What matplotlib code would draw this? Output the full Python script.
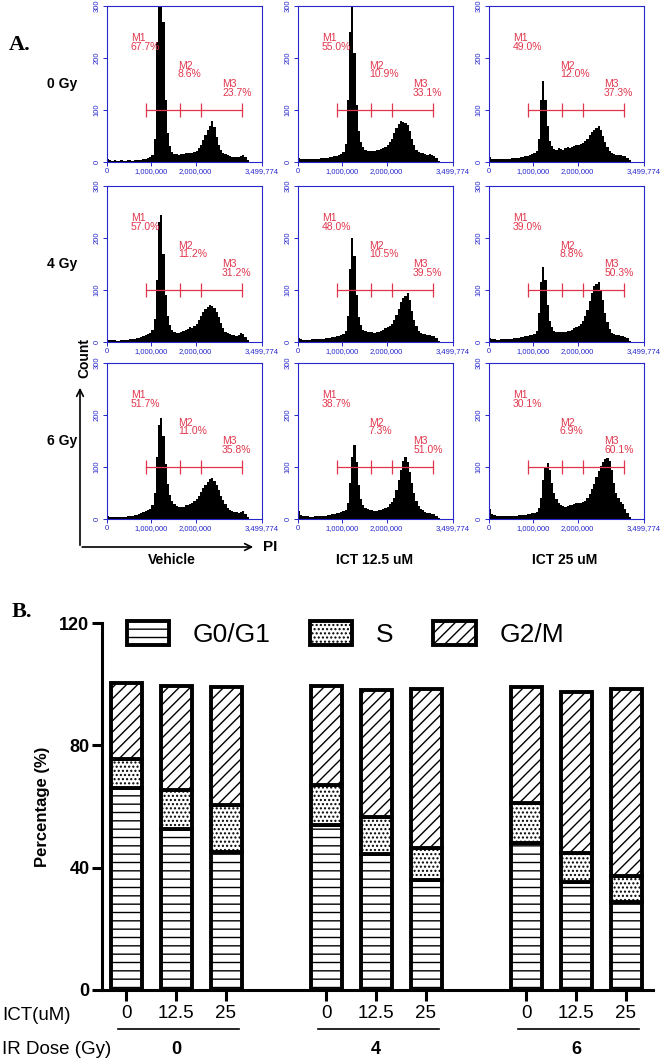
import matplotlib.pyplot as plt
import numpy as np
from matplotlib.patches import Patch, FancyArrowPatch

plt.rcParams['font.family'] = ['Liberation Sans', 'DejaVu Sans']
plt.rcParams['hatch.linewidth'] = 1.0

W, H = 667, 1063


def fx(x):
    return x / W


def fy(y):
    return 1 - y / H


# ---- Panel A: PI histograms (counts per 50,000-wide channel bin, 0 - 3,200,000)
bin_edges = np.arange(0, 3_200_001, 50_000)

h_0gy_vehicle = [5, 3, 2, 3, 2, 2, 3, 2,
                 2, 3, 3, 2, 3, 3, 4, 4,
                 5, 6, 8, 10, 14, 45, 230, 390,
                 380, 270, 120, 55, 30, 20, 16, 15,
                 14, 15, 16, 17, 18, 17, 18, 19,
                 22, 26, 32, 42, 52, 62, 70, 78,
                 68, 48, 32, 24, 18, 15, 13, 12,
                 10, 9, 9, 10, 12, 14, 10, 4]
h_0gy_ict12 = [8, 6, 5, 5, 6, 5, 5, 6,
               6, 6, 7, 7, 7, 8, 9, 10,
               11, 12, 14, 16, 20, 35, 120, 250,
               320, 210, 110, 60, 38, 28, 24, 22,
               22, 21, 22, 24, 23, 25, 26, 28,
               32, 38, 45, 55, 65, 74, 78, 77,
               75, 72, 60, 45, 32, 24, 20, 18,
               17, 15, 14, 16, 14, 12, 8, 2]
h_0gy_ict25 = [10, 6, 5, 5, 5, 5, 5, 6,
               6, 6, 7, 7, 8, 8, 9, 10,
               11, 12, 14, 15, 17, 22, 45, 120,
               155, 120, 70, 40, 30, 25, 24, 26,
               25, 24, 26, 28, 27, 28, 30, 32,
               33, 35, 36, 40, 45, 52, 58, 62,
               66, 70, 62, 50, 38, 28, 22, 18,
               16, 14, 13, 14, 12, 11, 8, 3]
h_4gy_vehicle = [4, 3, 3, 3, 2, 2, 3, 3,
                 3, 4, 5, 5, 6, 7, 8, 10,
                 12, 14, 16, 18, 24, 45, 120, 230,
                 245, 170, 90, 50, 32, 24, 20, 18,
                 18, 20, 22, 24, 25, 28, 26, 30,
                 34, 42, 50, 58, 64, 68, 72, 70,
                 66, 58, 48, 36, 26, 20, 17, 15,
                 14, 13, 12, 14, 18, 16, 10, 3]
h_4gy_ict12 = [8, 5, 4, 4, 4, 4, 5, 5,
               5, 5, 6, 6, 7, 7, 8, 9,
               10, 11, 12, 14, 16, 22, 50, 140,
               200, 165, 90, 48, 32, 24, 22, 20,
               19, 20, 18, 19, 20, 22, 24, 26,
               28, 30, 35, 42, 52, 64, 76, 84,
               88, 95, 80, 60, 42, 30, 22, 18,
               16, 15, 14, 13, 12, 11, 7, 2]
h_4gy_ict25 = [8, 5, 5, 4, 4, 5, 5, 5,
               5, 6, 6, 7, 7, 8, 9, 10,
               11, 12, 13, 14, 16, 22, 55, 115,
               145, 120, 72, 40, 28, 22, 20, 20,
               20, 19, 20, 21, 22, 24, 26, 28,
               30, 34, 40, 50, 62, 78, 95, 108,
               112, 115, 100, 80, 55, 38, 25, 18,
               16, 14, 13, 12, 11, 10, 7, 2]
h_6gy_vehicle = [6, 4, 3, 3, 3, 3, 4, 4,
                 4, 5, 5, 6, 7, 8, 10, 12,
                 14, 16, 18, 20, 26, 50, 120, 180,
                 195, 160, 105, 68, 46, 34, 28, 25,
                 24, 23, 24, 26, 27, 28, 30, 34,
                 38, 45, 52, 60, 66, 72, 76, 78,
                 74, 65, 55, 45, 36, 28, 22, 18,
                 16, 14, 14, 12, 14, 15, 10, 3]
h_6gy_ict12 = [15, 8, 6, 5, 5, 4, 4, 5,
               5, 5, 6, 6, 6, 7, 8, 9,
               10, 11, 12, 13, 15, 18, 30, 70,
               120, 142, 110, 65, 38, 26, 22, 20,
               18, 17, 16, 16, 17, 18, 20, 22,
               24, 28, 32, 40, 55, 75, 95, 112,
               120, 110, 90, 70, 50, 35, 25, 20,
               17, 14, 12, 11, 10, 9, 6, 2]
h_6gy_ict25 = [20, 10, 7, 6, 6, 5, 5, 5,
               5, 5, 6, 6, 6, 7, 7, 8,
               8, 9, 10, 11, 12, 14, 22, 40,
               75, 100, 108, 95, 70, 50, 38, 30,
               26, 25, 24, 25, 26, 27, 28, 30,
               30, 30, 32, 35, 40, 48, 58, 68,
               80, 92, 102, 110, 115, 118, 112, 95,
               70, 50, 40, 32, 28, 20, 12, 4]

hists = [[h_0gy_vehicle, h_0gy_ict12, h_0gy_ict25],
         [h_4gy_vehicle, h_4gy_ict12, h_4gy_ict25],
         [h_6gy_vehicle, h_6gy_ict12, h_6gy_ict25]]

gate_edges = [880_000, 1_640_000, 2_130_000, 3_040_000]
pct_m1 = [[67.7, 55.0, 49.0], [57.0, 48.0, 39.0], [51.7, 38.7, 30.1]]
pct_m2 = [[8.6, 10.9, 12.0], [11.2, 10.5, 8.8], [11.0, 7.3, 6.9]]
pct_m3 = [[23.7, 33.1, 37.3], [31.2, 39.5, 50.3], [35.8, 51.0, 60.1]]

row_names = ['0 Gy', '4 Gy', '6 Gy']
col_names = ['Vehicle', 'ICT 12.5 uM', 'ICT 25 uM']
x_ticks = [0, 1_000_000, 2_000_000, 3_499_774]
x_ticklabels = ['0', '1,000,000', '2,000,000', '3,499,774']

# ---- Panel B: stacked percentages
ict_labels = ['0', '12.5', '25']
ir_doses = ['0', '4', '6']
g0g1 = [66.0, 52.5, 45.0, 54.0, 44.5, 36.0, 48.0, 35.3, 28.8]
s_phase = [9.5, 13.0, 15.5, 13.0, 12.0, 10.5, 13.0, 9.5, 8.5]
g2m = [25.0, 34.0, 38.5, 32.5, 41.5, 52.0, 38.0, 52.6, 61.0]

blue = '#2626cc'
red = '#e0364c'

fig = plt.figure(figsize=(W / 100, H / 100), dpi=100)

col_left = [107, 298, 489]
row_top = [6, 186, 363]
pw, ph = 155, 156

for r in range(3):
    for c in range(3):
        ax = fig.add_axes([fx(col_left[c]), fy(row_top[r] + ph), pw / W, ph / H])
        ax.stairs(hists[r][c], bin_edges, fill=True, color='black', lw=0)
        ax.set_xlim(0, 3_499_774)
        ax.set_ylim(0, 300)
        for s in ax.spines.values():
            s.set_color(blue)
            s.set_linewidth(0.8)
        ax.set_xticks(x_ticks, x_ticklabels)
        ax.set_yticks([0, 100, 200, 300])
        ax.tick_params(colors=blue, labelsize=5.5, length=3, width=0.7, pad=1.5)
        ax.tick_params(axis='y', labelrotation=90)
        for lab in ax.get_yticklabels():
            lab.set_va('center')

        # gate markers
        ax.plot([gate_edges[0], gate_edges[-1]], [100, 100], color=red, lw=0.9)
        ax.vlines(gate_edges, 86, 114, color=red, lw=0.9)
        ax.text(540_000, 248, f"M1\n{pct_m1[r][c]:.1f}%", color=red, fontsize=7.5,
                va='top', ha='left', linespacing=0.85)
        ax.text(1_600_000, 195, f"M2\n{pct_m2[r][c]:.1f}%", color=red, fontsize=7.5,
                va='top', ha='left', linespacing=0.85)
        ax.text(2_600_000, 160, f"M3\n{pct_m3[r][c]:.1f}%", color=red, fontsize=7.5,
                va='top', ha='left', linespacing=0.85)

for r, name in enumerate(row_names):
    fig.text(fx(62), fy(row_top[r] + 78), name, ha='center', va='center',
             fontsize=10, fontweight='bold')

col_cx = [172, 375, 565]
for c, name in enumerate(col_names):
    fig.text(fx(col_cx[c]), fy(560), name, ha='center', va='center',
             fontsize=10, fontweight='bold')

# Count / PI arrows
fig.add_artist(FancyArrowPatch((fx(80), fy(548)), (fx(80), fy(385)),
                               transform=fig.transFigure, arrowstyle='->',
                               mutation_scale=12, lw=1.2, color='black'))
fig.add_artist(FancyArrowPatch((fx(79.4), fy(547)), (fx(256), fy(547)),
                               transform=fig.transFigure, arrowstyle='->',
                               mutation_scale=12, lw=1.2, color='black'))
fig.text(fx(84), fy(358), 'Count', rotation=90, ha='center', va='center',
         fontsize=10, fontweight='bold')
fig.text(fx(270), fy(547), 'PI', ha='center', va='center',
         fontsize=11, fontweight='bold')

fig.text(fx(20), fy(45), 'A.', ha='center', va='center', fontsize=16,
         fontweight='bold', family=['Liberation Serif', 'DejaVu Serif'])
fig.text(fx(22), fy(612), 'B.', ha='center', va='center', fontsize=16,
         fontweight='bold', family=['Liberation Serif', 'DejaVu Serif'])

# ---- Panel B
axb = fig.add_axes([fx(102), fy(990), (653 - 102) / W, (990 - 623) / H])
pos = np.array([g * 4 + i for g in range(3) for i in range(3)], dtype=float)
bottom = np.zeros(len(pos))
handles = []
for vals, hatch, lab in [(g0g1, '--', 'G0/G1'), (s_phase, '....', 'S'), (g2m, '///', 'G2/M')]:
    axb.bar(pos, vals, width=0.62, bottom=bottom, color='white', edgecolor='black',
            linewidth=2.8, hatch=hatch)
    bottom += np.array(vals)
    handles.append(Patch(facecolor='white', edgecolor='black', linewidth=2.8,
                         hatch=hatch, label=lab))

axb.set_xlim(-0.48, 10.54)
axb.set_ylim(0, 120)
axb.spines['top'].set_visible(False)
axb.spines['right'].set_visible(False)
axb.spines['left'].set_linewidth(2.2)
axb.spines['bottom'].set_linewidth(2.2)
axb.set_yticks([0, 40, 80, 120])
axb.tick_params(axis='y', length=7, width=2.2, labelsize=13, pad=2)
for lab in axb.get_yticklabels():
    lab.set_fontweight('bold')
axb.set_xticks(pos, ict_labels * 3)
axb.tick_params(axis='x', length=8, width=2.2, labelsize=13.5, pad=3)
axb.set_ylabel('Percentage (%)', fontsize=12, fontweight='bold')
axb.yaxis.set_label_coords(-0.094, 0.5)

axb.legend(handles=handles, loc='center left', bbox_to_anchor=(0.045, 0.97), ncol=3,
           frameon=False, fontsize=19, handlelength=1.6, handleheight=1.0,
           handletextpad=0.9, columnspacing=1.5, borderpad=0, borderaxespad=0)

tr = axb.get_xaxis_transform()
for g, dose in enumerate(ir_doses):
    axb.plot([g * 4 - 0.16, g * 4 + 2.25], [-0.106, -0.106], transform=tr,
             clip_on=False, color='black', lw=1.2)
    axb.text(g * 4 + 1, -0.163, dose, transform=tr, ha='center', va='center',
             fontsize=13, fontweight='bold')

fig.text(fx(2), fy(1015), 'ICT(uM)', ha='left', va='center', fontsize=13.5)
fig.text(fx(2), fy(1050), 'IR Dose (Gy)', ha='left', va='center', fontsize=13.5)

fig.savefig('out.png', dpi=100)
